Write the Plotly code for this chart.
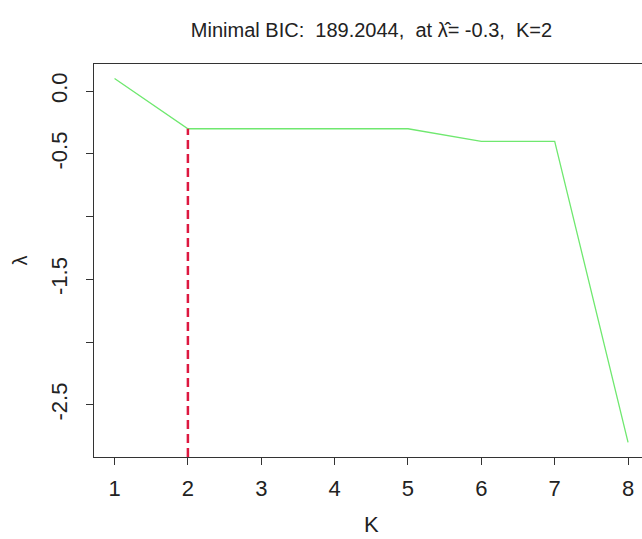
import plotly.graph_objects as go

K = [1, 2, 3, 4, 5, 6, 7, 8]
lam = [0.1, -0.3, -0.3, -0.3, -0.3, -0.4, -0.4, -2.8]
best_K = 2
best_lam = -0.3
min_bic = 189.2044
ytick_vals = [0.0, -0.5, -1.0, -1.5, -2.0, -2.5]
ytick_text = ["0.0", "-0.5", "", "-1.5", "", "-2.5"]
xtick_vals = K

ymin, ymax = -2.916, 0.216
xmin, xmax = 0.72, 8.19
xcenter = 4.5
font = "Liberation Sans, Arial, sans-serif"
axcol = "#333333"
txtcol = "#222222"

fig = go.Figure()
fig.add_trace(go.Scatter(x=K, y=lam, mode="lines",
                         line=dict(color="#6FE86F", width=1.3), showlegend=False,
                         hoverinfo="skip"))
fig.add_trace(go.Scatter(x=[best_K, best_K], y=[ymin, best_lam], mode="lines",
                         line=dict(color="#DD1840", width=2.5, dash="9px,5px"),
                         showlegend=False, hoverinfo="skip"))
# invisible trace to activate the top axis (box top edge)
fig.add_trace(go.Scatter(x=[xmin], y=[ymin], xaxis="x2", mode="markers",
                         marker=dict(opacity=0), showlegend=False, hoverinfo="skip"))

fig.add_annotation(x=xcenter, xref="x", y=-67 / 393, yref="paper",
                   text="K", showarrow=False, xanchor="center", yanchor="middle",
                   font=dict(size=22, family=font, color=txtcol))

fig.update_layout(
    width=642, height=539,
    margin=dict(l=94, r=0, t=64, b=82),
    paper_bgcolor="white", plot_bgcolor="white",
    font=dict(family=font, color=txtcol),
    title=dict(text=f"Minimal BIC:  {min_bic},  at λ\u0302= {best_lam},  K={best_K}",
               x=371.5 / 642, y=1 - 30 / 539, xref="container", yref="container",
               xanchor="center", yanchor="middle",
               font=dict(size=20, family=font, color=txtcol)),
    xaxis=dict(range=[xmin, xmax], tickvals=xtick_vals, showgrid=False, zeroline=False,
               showline=True, linecolor=axcol, linewidth=1,
               ticks="outside", ticklen=7, tickcolor=axcol,
               ticklabelstandoff=5,
               tickfont=dict(size=22, family=font, color=txtcol)),
    xaxis2=dict(range=[xmin, xmax], overlaying="x", side="top", showgrid=False,
                zeroline=False, showline=True, linecolor=axcol, linewidth=1,
                showticklabels=False, ticks=""),
    yaxis=dict(range=[ymin, ymax], tickvals=ytick_vals, ticktext=ytick_text,
               showgrid=False, zeroline=False,
               showline=True, linecolor=axcol, linewidth=1,
               ticks="outside", ticklen=7, tickcolor=axcol, tickangle=-90,
               tickfont=dict(size=22, family=font, color=txtcol),
               ticklabelstandoff=10,
               title=dict(text="λ", font=dict(size=20, family=font, color=txtcol),
                          standoff=14)),
)

fig.write_html("out.html")
